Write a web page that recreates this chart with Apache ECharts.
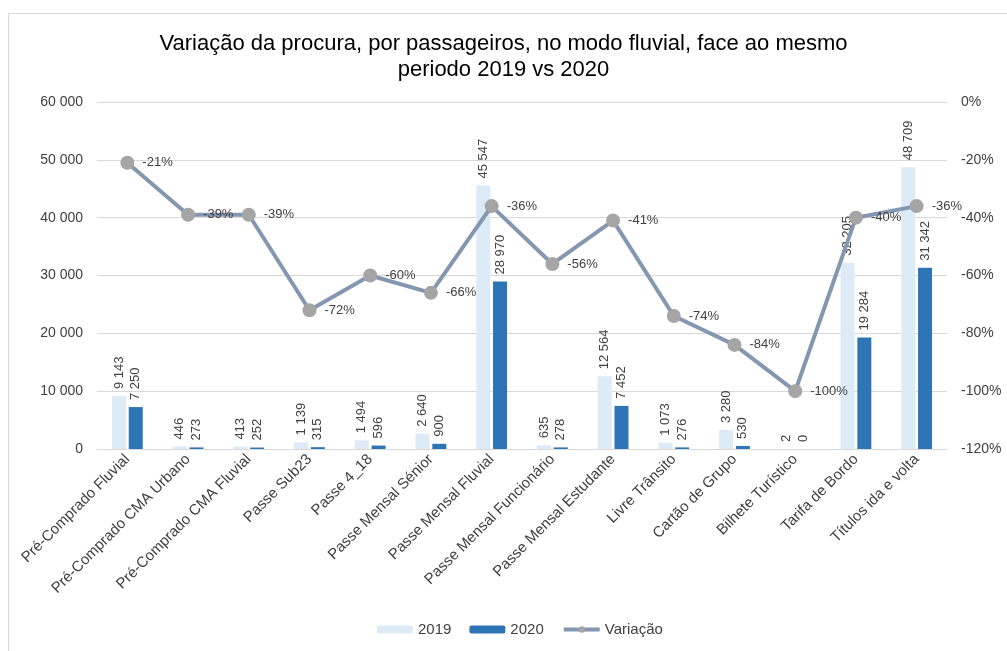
<!DOCTYPE html>
<html>
<head>
<meta charset="utf-8">
<script src="https://cdn.jsdelivr.net/npm/echarts@6/dist/echarts.min.js"></script>
<style>
  html, body { margin: 0; padding: 0; background: #fff; }
  #chart { width: 1007px; height: 651px; }
</style>
</head>
<body>
<div id="chart"></div>
<script>
  let categorias = [
    'Pré-Comprado Fluvial', 'Pré-Comprado CMA Urbano', 'Pré-Comprado CMA Fluvial',
    'Passe Sub23', 'Passe 4_18', 'Passe Mensal Sénior', 'Passe Mensal Fluvial',
    'Passe Mensal Funcionário', 'Passe Mensal Estudante', 'Livre Trânsito',
    'Cartão de Grupo', 'Bilhete Turístico', 'Tarifa de Bordo', 'Títulos ida e volta'
  ];
  let valores2019 = [9143, 446, 413, 1139, 1494, 2640, 45547, 635, 12564, 1073, 3280, 2, 32205, 48709];
  let valores2020 = [7250, 273, 252, 315, 596, 900, 28970, 278, 7452, 276, 530, 0, 19284, 31342];
  let variacao = [-0.21, -0.39, -0.39, -0.72, -0.60, -0.66, -0.36, -0.56, -0.41, -0.74, -0.84, -1.00, -0.40, -0.36];

  let fonte = '"Liberation Sans", Arial, sans-serif';

  // separador de milhares com espaço
  function milhares(v) {
    return String(v).replace(/\B(?=(\d{3})+(?!\d))/g, ' ');
  }

  let myChart = echarts.init(document.getElementById('chart'));

  let option = {
    textStyle: { fontFamily: fonte },
    title: {
      text: 'Variação da procura, por passageiros, no modo fluvial, face ao mesmo\nperiodo 2019 vs 2020',
      left: 'center',
      top: 26,
      textStyle: {
        color: '#000',
        fontSize: 22,
        fontWeight: 'normal',
        lineHeight: 26,
        fontFamily: fonte
      }
    },
    graphic: [{
      type: 'rect',
      left: 6,
      top: 11,
      shape: { width: 1100, height: 700 },
      style: { fill: 'none', stroke: '#d9d9d9', lineWidth: 1 },
      silent: true
    }],
    legend: {
      bottom: 9,
      left: 372,
      itemWidth: 36,
      itemHeight: 8,
      itemGap: 18,
      textStyle: { color: '#404040', fontSize: 15, fontFamily: fonte },
      data: ['2019', '2020', {
        name: 'Variação',
        itemStyle: { color: '#a5a5a5' },
        lineStyle: { width: 4, color: '#8497b0' }
      }]
    },
    grid: {
      left: 97,
      right: 60,
      top: 102,
      bottom: 202
    },
    xAxis: [{
      type: 'category',
      data: categorias,
      axisLine: { lineStyle: { color: '#d9d9d9' } },
      axisTick: { show: false },
      axisLabel: {
        interval: 0,
        rotate: 45,
        color: '#404040',
        fontSize: 15,
        margin: 8
      }
    }],
    yAxis: [{
      type: 'value',
      min: 0,
      max: 60000,
      interval: 10000,
      axisLine: { show: false },
      axisTick: { show: false },
      splitLine: { lineStyle: { color: '#d9d9d9' } },
      axisLabel: {
        color: '#404040',
        fontSize: 14,
        margin: 14,
        formatter: function (v) { return milhares(v); }
      }
    }, {
      type: 'value',
      min: -1.2,
      max: 0,
      interval: 0.2,
      axisLine: { show: false },
      axisTick: { show: false },
      splitLine: { show: false },
      axisLabel: {
        color: '#404040',
        fontSize: 14,
        margin: 14,
        formatter: function (v) { return Math.round(v * 100) + '%'; }
      }
    }],
    series: [{
      name: '2019',
      type: 'bar',
      barWidth: 14,
      barGap: '20%',
      itemStyle: { color: '#ddebf7' },
      label: {
        show: true,
        position: 'top',
        rotate: 90,
        align: 'left',
        verticalAlign: 'middle',
        distance: 7,
        color: '#404040',
        fontSize: 13,
        formatter: function (p) { return milhares(p.value); }
      },
      data: valores2019
    }, {
      name: '2020',
      type: 'bar',
      barWidth: 14,
      itemStyle: { color: '#2e75b6' },
      label: {
        show: true,
        position: 'top',
        rotate: 90,
        align: 'left',
        verticalAlign: 'middle',
        distance: 7,
        color: '#404040',
        fontSize: 13,
        formatter: function (p) { return milhares(p.value); }
      },
      data: valores2020
    }, {
      name: 'Variação',
      type: 'line',
      yAxisIndex: 1,
      z: 5,
      symbol: 'circle',
      symbolSize: 14,
      lineStyle: { color: '#8497b0', width: 4 },
      itemStyle: { color: '#a5a5a5' },
      label: {
        show: true,
        position: 'right',
        distance: 8,
        color: '#404040',
        fontSize: 13,
        formatter: function (p) { return Math.round(p.value * 100) + '%'; }
      },
      data: variacao
    }]
  };

  myChart.setOption(option);
</script>
</body>
</html>
